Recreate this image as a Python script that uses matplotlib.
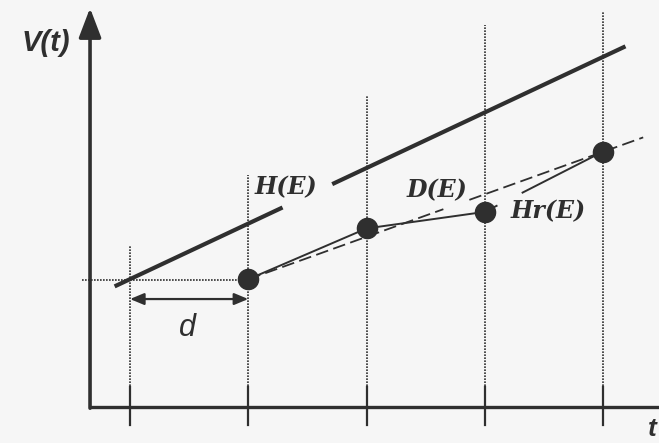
import matplotlib
matplotlib.use('Agg')
import matplotlib.pyplot as plt
import numpy as np

# time marks (in units of the period d) and the height of each dotted guide
t_marks = [0, 1, 2, 3, 4]
guide_tops = [1.37, 1.96, 2.64, 3.23, 3.34]

# Hr(E): received points
hr_t = [1, 2, 3, 4]
hr_v = [1.08, 1.51, 1.65, 2.16]

# H(E): ideal line, shifted by d
h_t = [-0.13, 4.19]
h_v = [1.02, 3.05]

# D(E): dashed line through first and last point
d_t = [1, 4.34]
d_v = [1.08, 2.28]

ink = '#2f2f2f'
bg = '#f6f6f6'

fig = plt.figure(figsize=(6.59, 4.43), dpi=100)
fig.patch.set_facecolor(bg)
ax = fig.add_axes([0, 0, 1, 1])
ax.set_facecolor(bg)
ax.set_xlim(-1.0994, 4.4736)
ax.set_ylim(-0.3044, 3.4419)
ax.axis('off')

# dotted guides and solid ticks
for t, top in zip(t_marks, guide_tops):
    ax.plot([t, t], [0, top], color=ink, lw=1.2, ls=(0, (1, 0.8)))
    ax.plot([t, t], [-0.15, 0.17], color=ink, lw=1.6)

# horizontal dotted reference
ax.plot([-0.41, hr_t[0]], [hr_v[0] - 0.01, hr_v[0] - 0.01], color=ink,
        lw=1.2, ls=(0, (1, 0.8)))

# axes
x_axis = -0.338
ax.plot([x_axis, 4.6], [0, 0], color=ink, lw=2.4, solid_capstyle='butt')
ax.annotate('', xy=(x_axis, 3.374), xytext=(x_axis, -0.01),
            arrowprops=dict(arrowstyle='-|>,head_length=1.0,head_width=0.38',
                            color=ink, lw=2.6, shrinkA=0, shrinkB=0,
                            mutation_scale=18))

# H(E) with a gap next to its label
gap = [1.29, 1.71]
ht1 = [h_t[0], gap[0]]
ht2 = [gap[1], h_t[1]]
ax.plot(ht1, np.interp(ht1, h_t, h_v), color=ink, lw=3.0,
        solid_capstyle='butt')
ax.plot(ht2, np.interp(ht2, h_t, h_v), color=ink, lw=3.0,
        solid_capstyle='butt')

# D(E) dashed
dgap = [2.65, 2.87]
dt1 = [d_t[0], dgap[0]]
dt2 = [dgap[1], d_t[1]]
for seg in (dt1, dt2):
    ax.plot(seg, np.interp(seg, d_t, d_v), color=ink, lw=1.3,
            ls=(0, (7, 3)))

# Hr(E) polyline
ax.plot(hr_t[:3], hr_v[:3], color=ink, lw=1.4)
rgap = [3.10, 3.32]
rt1 = [hr_t[2], rgap[0]]
rt2 = [rgap[1], hr_t[3]]
for seg in (rt1, rt2):
    ax.plot(seg, np.interp(seg, hr_t[2:], hr_v[2:]), color=ink, lw=1.4)
ax.plot(hr_t, hr_v, 'o', color=ink, ms=14.5, zorder=5)

# period arrow
ax.annotate('', xy=(0, 0.913), xytext=(1, 0.913),
            arrowprops=dict(arrowstyle='<|-|>,head_length=0.6,head_width=0.25',
                            color=ink, lw=1.6, shrinkA=0, shrinkB=0,
                            mutation_scale=14))

# labels
sans = 'Liberation Sans'
serif = 'DejaVu Serif'
ax.text(-0.710, 3.078, 'V(t)', family=sans, weight='bold', style='italic',
        size=21, color=ink, ha='center', va='center')
ax.text(0.482, 0.665, 'd', family=sans, style='italic', size=22, color=ink,
        ha='center', va='center')
ax.text(4.455, -0.29, 't', family=sans, weight='bold', style='italic',
        size=19, color=ink, ha='right', va='bottom')
ax.text(1.315, 1.860, 'H(E)', family=serif, weight='bold', style='italic',
        size=17, color=ink, ha='center', va='center')
ax.text(2.596, 1.835, 'D(E)', family=serif, weight='bold', style='italic',
        size=17, color=ink, ha='center', va='center')
ax.text(3.54, 1.657, 'Hr(E)', family=serif, weight='bold', style='italic',
        size=17, color=ink, ha='center', va='center')

fig.savefig('out.png', dpi=100, facecolor=bg)
